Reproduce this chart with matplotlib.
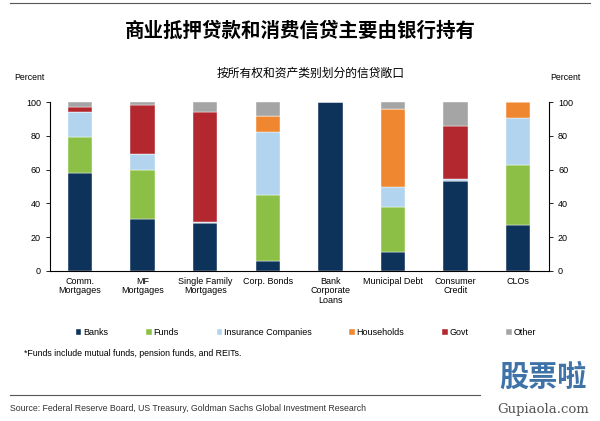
import matplotlib.pyplot as plt
import numpy as np

plt.rcParams['font.family'] = ['Liberation Sans', 'Noto Sans CJK SC', 'DejaVu Sans']

categories = ['Comm.\nMortgages', 'MF\nMortgages', 'Single Family\nMortgages', 'Corp. Bonds',
              'Bank\nCorporate\nLoans', 'Municipal Debt', 'Consumer\nCredit', 'CLOs']
series = ['Banks', 'Funds', 'Insurance Companies', 'Households', 'Govt', 'Other']
banks     = [58.0, 31.0, 28.5,  6.0, 100.0, 11.5, 53.5, 27.0]
funds     = [21.0, 29.0,  0.0, 39.0,   0.0, 26.5,  0.0, 36.0]
insurance = [15.0,  9.0,  0.5, 37.5,   0.0, 12.0,  1.0, 27.5]
households= [ 0.0,  0.0,  0.0,  9.5,   0.0, 46.0,  0.0,  9.5]
govt      = [ 3.0, 29.0, 65.0,  0.0,   0.0,  0.0, 31.5,  0.0]
other     = [ 3.0,  2.0,  6.0,  8.0,   0.0,  4.0, 14.0,  0.0]
colors = ['#0e335b', '#8cbf45', '#b3d4ee', '#ef8630', '#b3282e', '#a5a5a5']

fig = plt.figure(figsize=(6, 4.21), dpi=100)
ax = fig.add_axes([0.0833, 0.3563, 0.8317, 0.4014])

x = np.arange(len(categories))
bottom = np.zeros(len(categories))
for name, vals, c in zip(series, [banks, funds, insurance, households, govt, other], colors):
    ax.bar(x, vals, 0.39, bottom=bottom, color=c, label=name, edgecolor='white', linewidth=0.3)
    bottom += np.array(vals)

ax.set_xlim(-0.48, 7.495)
ax.set_ylim(0, 100)
ax.set_yticks(range(0, 101, 20))
ax.set_xticks(x)
ax.set_xticklabels(categories, fontsize=6.5, linespacing=1.1)
ax.tick_params(axis='x', length=0, pad=4)
ax.tick_params(axis='y', labelsize=6.5, length=3, width=0.6)
ax.spines['top'].set_visible(False)
for s in ['left', 'right', 'bottom']:
    ax.spines[s].set_linewidth(0.7)
ax2 = ax.twinx()
ax2.set_ylim(0, 100)
ax2.set_yticks(range(0, 101, 20))
ax2.tick_params(axis='y', labelsize=6.5, length=3, width=0.6)
ax2.spines['top'].set_visible(False)

fig.text(0.023, 0.817, 'Percent', fontsize=6.3, va='center')
fig.text(0.917, 0.817, 'Percent', fontsize=6.3, va='center')

fig.text(0.5, 0.925, '商业抵押贷款和消费信贷主要由银行持有', fontsize=14, fontweight='bold',
         ha='center', va='center', family=['Noto Sans CJK SC'])
fig.text(0.518, 0.827, '按所有权和资产类别划分的信贷敞口', fontsize=8.5,
         ha='center', va='center', family=['Noto Sans CJK SC'])

fig.legend(loc='center', bbox_to_anchor=(0.51, 0.21), ncol=6, fontsize=6.5, frameon=False,
           handlelength=0.6, handleheight=0.6, handletextpad=0.2, columnspacing=4.2)

fig.text(0.04, 0.16, '*Funds include mutual funds, pension funds, and REITs.', fontsize=6.3, va='center')

fig.add_artist(plt.Line2D([0.017, 0.983], [0.993, 0.993], color='#555555', lw=0.8))
fig.add_artist(plt.Line2D([0.017, 0.8], [0.062, 0.062], color='#555555', lw=0.8))
fig.text(0.017, 0.03, 'Source: Federal Reserve Board, US Treasury, Goldman Sachs Global Investment Research',
         fontsize=6.3, va='center', color='#333333')

fig.text(0.905, 0.105, '股票啦', fontsize=21, fontweight='bold', ha='center', va='center',
         color='#3f73a8', family=['Noto Sans CJK SC'])
fig.text(0.905, 0.028, 'Gupiaola.com', fontsize=9.5, ha='center', va='center',
         color='#555555', family=['DejaVu Serif'])

fig.savefig('out.png', dpi=100)
